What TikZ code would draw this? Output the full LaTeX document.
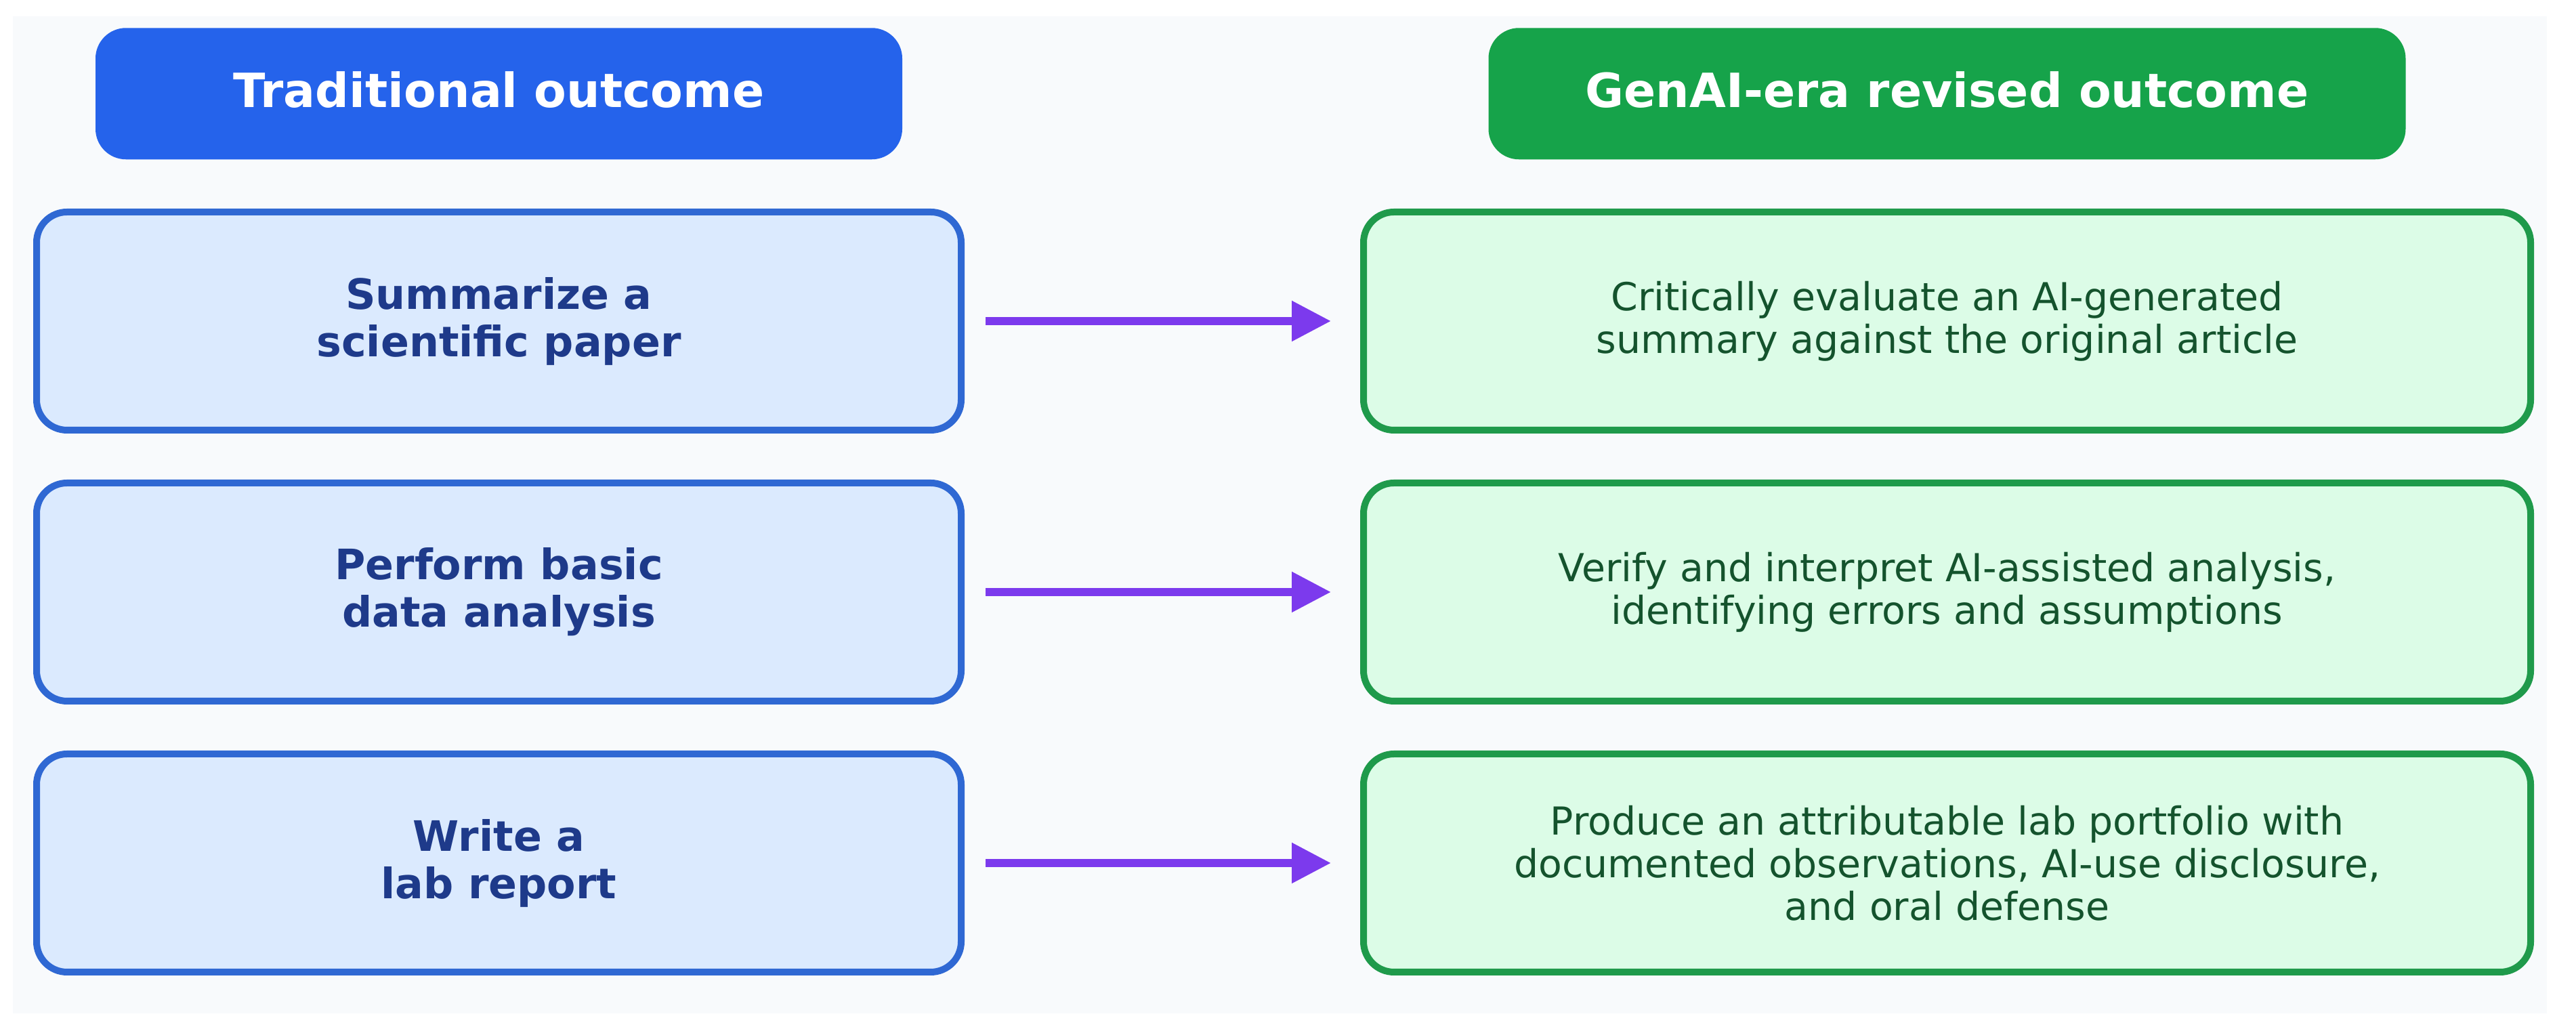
\documentclass[tikz,border=0pt]{standalone}
\usepackage{fontspec}
\setmainfont{DejaVu Sans}
\usetikzlibrary{arrows.meta,positioning}

\definecolor{panelbg}{HTML}{F8FAFC}
\definecolor{tradblue}{HTML}{2563EB}
\definecolor{tradedge}{HTML}{2F68D3}
\definecolor{tradfill}{HTML}{DBEAFE}
\definecolor{tradtext}{HTML}{1E3A8A}
\definecolor{gengreen}{HTML}{16A34A}
\definecolor{genedge}{HTML}{1F9A4B}
\definecolor{genfill}{HTML}{DCFCE7}
\definecolor{gentext}{HTML}{14532D}
\definecolor{mapviolet}{HTML}{7C3AED}

\begin{document}
\begin{tikzpicture}[node distance=0.68cm, >={Triangle[length=5.8mm,width=5.7mm]}]
    % Estilos
    \tikzstyle{header} = [rectangle, rounded corners=0.45cm, text=white, minimum height=1.94cm, text depth=0.35em, align=center, font=\fontsize{19.8}{24}\selectfont\bfseries]
    \tikzstyle{oldbox} = [draw=tradedge, fill=tradfill, line width=0.1cm, rectangle, rounded corners=0.45cm, minimum width=13.65cm, minimum height=3.22cm, align=center, text=tradtext, font=\fontsize{17.6}{19.9}\selectfont\bfseries]
    \tikzstyle{newbox} = [draw=genedge, fill=genfill, line width=0.1cm, rectangle, rounded corners=0.45cm, minimum width=17.23cm, minimum height=3.22cm, align=center, text=gentext, font=\fontsize{16.2}{17.9}\selectfont]
    \tikzstyle{maparrow} = [->, draw=mapviolet, fill=mapviolet, line width=0.12cm, shorten <=0.31cm, shorten >=0.43cm]

    % --- Marco y fondo ---
    \useasboundingbox (0,0) rectangle (38.03,15.19);
    \fill[white] (0,0) rectangle (38.03,15.19);
    \fill[panelbg] (0.19,0.23) rectangle (37.60,14.95);

    % --- Columna tradicional ---
    \node [oldbox] (summarize) at (7.365,10.45) {Summarize a\\ scientific paper};
    \node [oldbox, below=of summarize] (analysis) {Perform basic\\ data analysis};
    \node [oldbox, below=of analysis] (report) {Write a\\ lab report};

    % --- Columna revisada ---
    \node [newbox, right=5.84cm of summarize] (evaluate) {Critically evaluate an AI-generated\\ summary against the original article};
    \node [newbox, right=5.84cm of analysis] (verify) {Verify and interpret AI-assisted analysis,\\ identifying errors and assumptions};
    \node [newbox, right=5.84cm of report] (portfolio) {Produce an attributable lab portfolio with\\ documented observations, AI-use disclosure,\\ and oral defense};

    % --- Cabeceras ---
    \node [header, fill=tradblue, minimum width=11.91cm, above=0.72cm of summarize] (tradhead) {Traditional outcome};
    \node [header, fill=gengreen, minimum width=13.54cm, above=0.72cm of evaluate] (genhead) {GenAI-era revised outcome};

    % --- Flechas ---
    \draw [maparrow] (summarize) -- (evaluate);
    \draw [maparrow] (analysis) -- (verify);
    \draw [maparrow] (report) -- (portfolio);

\end{tikzpicture}
\end{document}
